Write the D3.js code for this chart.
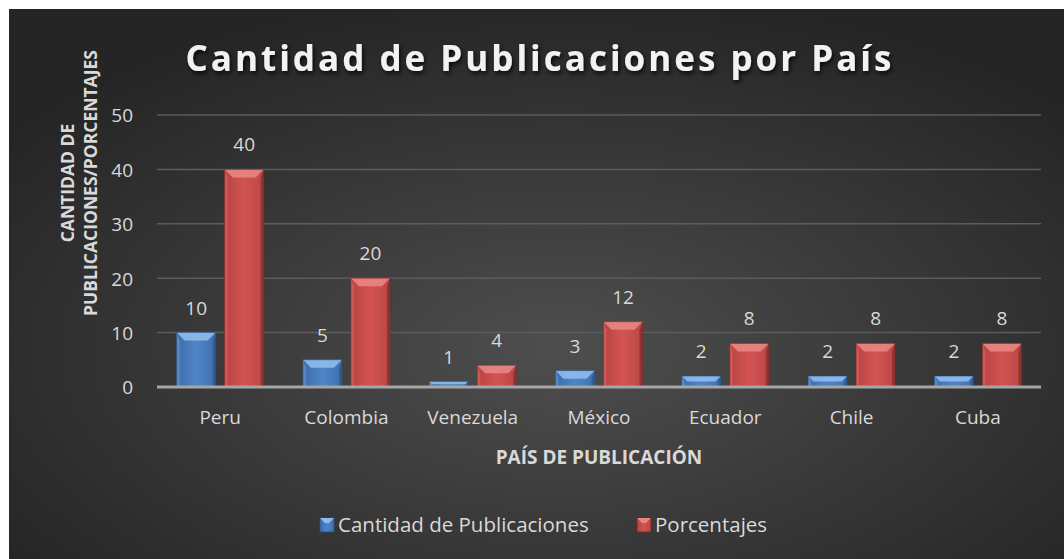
<!DOCTYPE html>
<html>
<head>
<meta charset="utf-8">
<script src="https://cdn.jsdelivr.net/npm/d3@7"></script>
<style>
  body { margin: 0; background: #ffffff; }
  text { font-family: "Open Sans", "DejaVu Sans", sans-serif; }
</style>
</head>
<body>
<div id="chart"></div>
<script>
// data
const paises = ["Peru", "Colombia", "Venezuela", "México", "Ecuador", "Chile", "Cuba"];
const cantidad = [10, 5, 1, 3, 2, 2, 2];
const porcentajes = [40, 20, 4, 12, 8, 8, 8];
const serieNombres = ["Cantidad de Publicaciones", "Porcentajes"];
const yTicks = [0, 10, 20, 30, 40, 50];

const width = 1064, height = 559;
const margin = { top: 115, right: 23, bottom: 172, left: 157 };

const svg = d3.select("#chart")
  .append("svg")
  .attr("width", width)
  .attr("height", height);

const defs = svg.append("defs");

// background gradient
const bg = defs.append("radialGradient")
  .attr("id", "bgGrad")
  .attr("cx", "52%").attr("cy", "62%").attr("r", "65%");
bg.append("stop").attr("offset", "0%").attr("stop-color", "#4e4e4e");
bg.append("stop").attr("offset", "100%").attr("stop-color", "#252525");

// bar gradients
function barGrad(id, c1, c2, c3) {
  const g = defs.append("linearGradient").attr("id", id)
    .attr("x1", "0").attr("y1", "0").attr("x2", "1").attr("y2", "0");
  g.append("stop").attr("offset", "0%").attr("stop-color", c1);
  g.append("stop").attr("offset", "50%").attr("stop-color", c2);
  g.append("stop").attr("offset", "100%").attr("stop-color", c3);
}
barGrad("blueGrad", "#3d6cab", "#4f86c8", "#3f70b0");
barGrad("redGrad", "#b84442", "#d25452", "#b94745");

const serieStyle = [
  { fill: "url(#blueGrad)", top: "#8fbbec", side: "#6a9bd6", dark: "#2a4f80" },
  { fill: "url(#redGrad)", top: "#e98583", side: "#dc6664", dark: "#7a2423" }
];

// title shadow
const sh = defs.append("filter").attr("id", "shadow")
  .attr("x", "-5%").attr("y", "-20%").attr("width", "110%").attr("height", "150%");
sh.append("feDropShadow")
  .attr("dx", 1.5).attr("dy", 2.5).attr("stdDeviation", 2)
  .attr("flood-color", "#000").attr("flood-opacity", 0.8);

svg.append("rect")
  .attr("x", 9).attr("y", 9)
  .attr("width", width - 9).attr("height", height - 9)
  .attr("fill", "url(#bgGrad)");

//scales
const x = d3.scaleBand()
  .domain(paises)
  .range([margin.left, width - margin.right])
  .padding(0);

const x1 = d3.scaleBand()
  .domain([0, 1])
  .range([0, 87])
  .paddingInner(0.1875);

const y = d3.scaleLinear()
  .domain([0, 50])
  .range([height - margin.bottom, margin.top]);

// gridlines
svg.append("g")
  .selectAll("line")
  .data(yTicks.filter(d => d > 0))
  .enter()
  .append("line")
  .attr("x1", margin.left)
  .attr("x2", width - margin.right)
  .attr("y1", d => y(d))
  .attr("y2", d => y(d))
  .attr("stroke", "#5c5c5c")
  .attr("stroke-width", 1.5);

// y axis labels
const yAxis = d3.axisLeft(y).tickValues(yTicks).tickSize(0).tickPadding(24);
const yG = svg.append("g")
  .attr("transform", `translate(${margin.left}, 0)`)
  .call(yAxis);
yG.select(".domain").remove();
yG.selectAll("text")
  .attr("fill", "#d9d9d9")
  .style("font-size", "19px")
  .attr("dy", "0.36em");

// bars
const rows = paises.map((p, i) => ({ pais: p, vals: [cantidad[i], porcentajes[i]] }));

const groups = svg.append("g")
  .selectAll("g")
  .data(rows)
  .enter()
  .append("g")
  .attr("transform", d => `translate(${x(d.pais) + (x.bandwidth() - 87) / 2}, 0)`);

const bars = groups.selectAll("g.bar")
  .data(d => d.vals.map((v, k) => ({ v: v, k: k })))
  .enter()
  .append("g")
  .attr("class", "bar");

bars.each(function (d) {
  const g = d3.select(this);
  const bx = x1(d.k), bw = x1.bandwidth();
  const top = y(d.v), bot = y(0);
  const h = bot - top;
  const b = Math.min(8, h / 2);
  const s = serieStyle[d.k];

  g.append("rect")
    .attr("x", bx).attr("y", top)
    .attr("width", bw).attr("height", h)
    .attr("fill", s.fill);
  // top bevel
  g.append("polygon")
    .attr("points", [[bx, top], [bx + bw, top], [bx + bw - b, top + b], [bx + b, top + b]].join(" "))
    .attr("fill", s.top)
    .attr("opacity", 0.9);
  // left bevel
  g.append("polygon")
    .attr("points", [[bx, top], [bx + Math.min(3, b), top + b], [bx + Math.min(3, b), bot], [bx, bot]].join(" "))
    .attr("fill", s.side)
    .attr("opacity", 0.6);
  // right bevel (shadow)
  g.append("polygon")
    .attr("points", [[bx + bw, top], [bx + bw - Math.min(3, b), top + b], [bx + bw - Math.min(3, b), bot], [bx + bw, bot]].join(" "))
    .attr("fill", s.dark)
    .attr("opacity", 0.6);
  g.append("rect")
    .attr("x", bx).attr("y", top)
    .attr("width", bw).attr("height", h)
    .attr("fill", "none")
    .attr("stroke", s.dark)
    .attr("stroke-opacity", 0.6)
    .attr("stroke-width", 0.8);

  // data label
  g.append("text")
    .attr("x", bx + bw / 2)
    .attr("y", top - 18)
    .attr("text-anchor", "middle")
    .attr("fill", "#d9d9d9")
    .style("font-size", "19px")
    .text(d.v);
});

// baseline
svg.append("line")
  .attr("x1", margin.left)
  .attr("x2", width - margin.right)
  .attr("y1", y(0))
  .attr("y2", y(0))
  .attr("stroke", "#a6a6a6")
  .attr("stroke-width", 3);

// x axis labels
const xAxis = d3.axisBottom(x).tickSize(0).tickPadding(24);
const xG = svg.append("g")
  .attr("transform", `translate(0, ${y(0)})`)
  .call(xAxis);
xG.select(".domain").remove();
xG.selectAll("text")
  .attr("fill", "#d9d9d9")
  .style("font-size", "19px");

// title
svg.append("text")
  .attr("x", 540)
  .attr("y", 71)
  .attr("text-anchor", "middle")
  .attr("fill", "#f2f2f2")
  .attr("filter", "url(#shadow)")
  .style("font-size", "35px")
  .style("font-weight", "bold")
  .style("letter-spacing", "3px")
  .text("Cantidad de Publicaciones por País");

// x axis title
svg.append("text")
  .attr("x", 599)
  .attr("y", 464)
  .attr("text-anchor", "middle")
  .attr("fill", "#d9d9d9")
  .style("font-size", "19px")
  .style("font-weight", "bold")
  .text("PAÍS DE PUBLICACIÓN");

// y axis title (two lines)
const yTitle = svg.append("text")
  .attr("transform", "translate(77, 183) rotate(-90)")
  .attr("text-anchor", "middle")
  .attr("fill", "#d9d9d9")
  .style("font-size", "17.5px")
  .style("font-weight", "bold");
yTitle.append("tspan").attr("x", 0).attr("dy", "-0.15em").text("CANTIDAD DE");
yTitle.append("tspan").attr("x", 0).attr("dy", "1.3em").text("PUBLICACIONES/PORCENTAJES");

// legend
const legendX = [320, 637];
const legend = svg.append("g")
  .selectAll("g")
  .data(serieNombres)
  .enter()
  .append("g")
  .attr("transform", (d, i) => `translate(${legendX[i]}, 518)`);

legend.each(function (d, i) {
  const g = d3.select(this);
  const s = serieStyle[i];
  g.append("rect").attr("width", 14).attr("height", 14).attr("fill", s.fill)
    .attr("stroke", s.dark).attr("stroke-width", 0.8);
  g.append("polygon")
    .attr("points", [[0, 0], [14, 0], [9, 5], [5, 5]].join(" "))
    .attr("fill", s.top);
  g.append("text")
    .attr("x", 18)
    .attr("y", 14)
    .attr("fill", "#d9d9d9")
    .style("font-size", "20.5px")
    .text(d);
});
</script>
</body>
</html>
